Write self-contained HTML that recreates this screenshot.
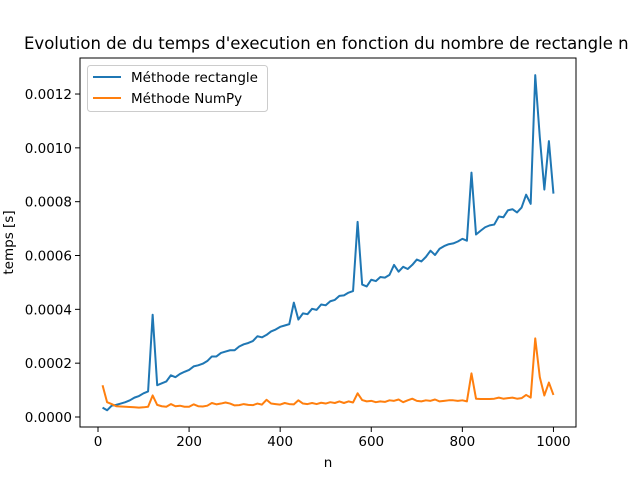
<!DOCTYPE html>
<html><head><meta charset="utf-8"><style>
body{margin:0;background:#fff;}
svg{display:block;font-family:"DejaVu Sans","Liberation Sans",sans-serif;}
</style></head><body>
<svg id="chart" width="640" height="480" xmlns="http://www.w3.org/2000/svg">
<rect width="640" height="480" fill="#fff"/>
<text x="24" y="49" font-size="16.5" fill="#000">Evolution de du temps d'execution en fonction du nombre de rectangle n</text>
<g id="plot"></g>
</svg>
<script>
const nValues=[];for(let n=10;n<=1000;n+=10)nValues.push(n);
const rectTimesMicro=[35,25,42,45,50,55,62,72,78,88,
95,380,118,125,132,155,148,160,168,175,
188,192,198,208,225,225,238,243,248,248,
262,270,275,282,300,296,305,318,325,335,
340,345,425,362,385,382,402,398,418,415,
430,435,450,452,462,468,725,492,485,510,
505,520,518,528,565,540,558,550,565,585,
578,595,618,602,625,635,642,645,652,662,
655,908,678,692,705,712,715,745,742,768,
772,760,778,826,792,1270,1040,845,1025,830];
const numpyTimesMicro=[118,55,48,40,39,38,37,36,35,36,
38,80,45,40,38,48,40,42,38,38,
47,40,39,42,52,47,50,54,50,43,
44,48,45,44,50,46,64,50,48,46,
52,48,47,62,50,48,52,48,53,50,
55,52,58,52,58,54,88,63,58,60,
55,58,56,62,60,65,55,62,68,60,
58,62,60,65,58,60,62,62,60,62,
58,162,68,67,67,67,68,72,68,70,
72,68,70,82,72,292,148,80,128,82];
const xTicks=[0,200,400,600,800,1000];
const yTicks=[0,0.0002,0.0004,0.0006,0.0008,0.0010,0.0012];
const yTickLabels=["0.0000","0.0002","0.0004","0.0006","0.0008","0.0010","0.0012"];

const L=80,R=576,T=58,B=427;
const xMin=-39.5,xMax=1049.5;
const X=v=>L+(v-xMin)/(xMax-xMin)*(R-L);
const Y=v=>417-v/0.0002*53.83;
const g=document.getElementById('plot');
const NS='http://www.w3.org/2000/svg';
function mk(t,a){const e=document.createElementNS(NS,t);for(const k in a)e.setAttribute(k,a[k]);g.appendChild(e);return e;}

xTicks.forEach((v,i)=>{
  const l=mk('line',{x1:X(v),x2:X(v),y1:B,y2:B+5,stroke:'#000','stroke-width':1});
  
  
  const t=mk('text',{x:X(v),y:B+19,'font-size':13.5,'text-anchor':'middle'});
  t.textContent=String(v);
  
  
});
yTicks.forEach((v,i)=>{
  const l=mk('line',{x1:L-5,x2:L,y1:Y(v),y2:Y(v),stroke:'#000','stroke-width':1});
  
  
  const t=mk('text',{x:L-8,y:Y(v)+5,'font-size':13.5,'text-anchor':'end'});
  t.textContent=yTickLabels[i];
  
  
});
function series(vals,color,name){
  const d=vals.map((v,i)=>(i?'L':'M')+X(nValues[i]).toFixed(2)+','+Y(v*1e-6).toFixed(2)).join(' ');
  const p=mk('path',{d:d,fill:'none',stroke:color,'stroke-width':2,'stroke-linejoin':'round'});
  
  
}
series(rectTimesMicro,'#1f77b4','line-methode-rectangle');
series(numpyTimesMicro,'#ff7f0e','line-methode-numpy');
const frame=mk('rect',{x:L,y:T,width:R-L,height:B-T,fill:'none',stroke:'#000','stroke-width':1});


const xl=mk('text',{x:(L+R)/2,y:467,'font-size':13.5,'text-anchor':'middle'});xl.textContent='n';


const yl=mk('text',{x:0,y:0,'font-size':13.5,'text-anchor':'middle',transform:'translate(13,'+((T+B)/2)+') rotate(-90)'});yl.textContent='temps [s]';


// legend
const lg=mk('rect',{x:87.5,y:65.5,width:180,height:46,rx:3,fill:'#fff','fill-opacity':0.8,stroke:'#ccc'});


[['Méthode rectangle','#1f77b4',77],['Méthode NumPy','#ff7f0e',98]].forEach(e=>{
  const l=mk('line',{x1:93,x2:121,y1:e[2],y2:e[2],stroke:e[1],'stroke-width':2});
  
  
  const t=mk('text',{x:131,y:e[2]+5,'font-size':13.5});t.textContent=e[0];
  
  
});
</script>
</body></html>
